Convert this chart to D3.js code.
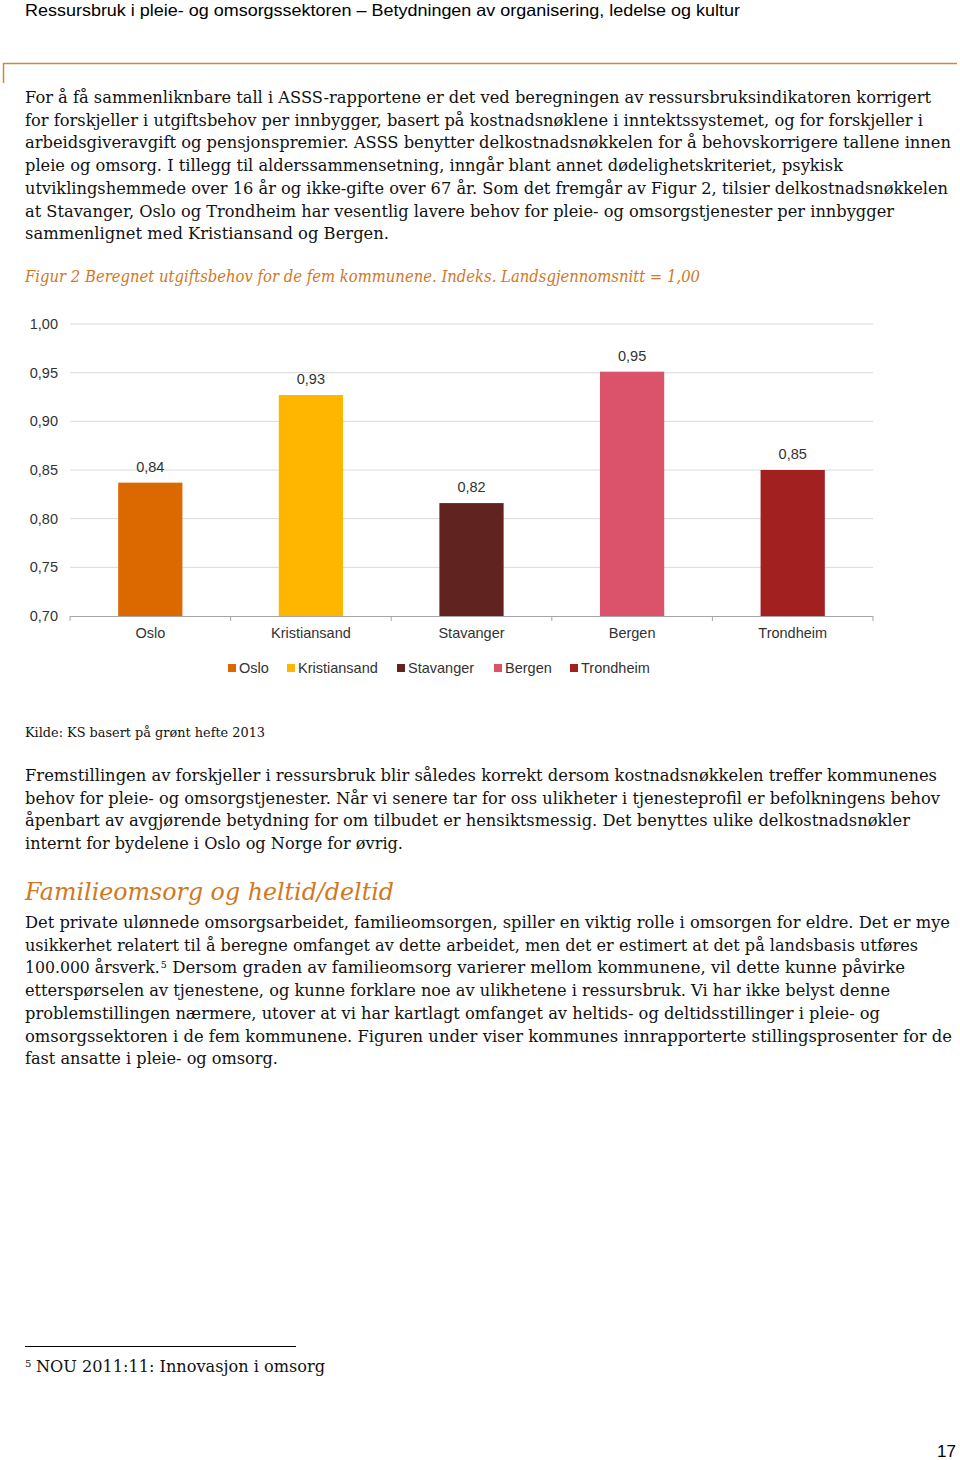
<!DOCTYPE html>
<html><head><meta charset="utf-8">
<script src="https://cdn.jsdelivr.net/npm/d3@7"></script>
<style>
html,body{margin:0;padding:0;background:#fff;}
svg{display:block;}
</style></head>
<body>
<svg id="page" width="960" height="1460"></svg>
<script>
// ---------- chart data ----------
const categories = ["Oslo", "Kristiansand", "Stavanger", "Bergen", "Trondheim"];
const values = [0.837, 0.927, 0.816, 0.951, 0.850];
const colors = ["#DC6900", "#FFB600", "#602320", "#DB536A", "#A32020"];
const yTicks = [0.70, 0.75, 0.80, 0.85, 0.90, 0.95, 1.00];

// ---------- page text ----------
const headerText = "Ressursbruk i pleie- og omsorgssektoren – Betydningen av organisering, ledelse og kultur";
const para1 = [
 ["For å få sammenliknbare tall i ASSS-rapportene er det ved beregningen av ressursbruksindikatoren korrigert", 931],
 ["for forskjeller i utgiftsbehov per innbygger, basert på kostnadsnøklene i inntektssystemet, og for forskjeller i", 923],
 ["arbeidsgiveravgift og pensjonspremier. ASSS benytter delkostnadsnøkkelen for å behovskorrigere tallene innen", 951],
 ["pleie og omsorg. I tillegg til alderssammensetning, inngår blant annet dødelighetskriteriet, psykisk", 843],
 ["utviklingshemmede over 16 år og ikke-gifte over 67 år. Som det fremgår av Figur 2, tilsier delkostnadsnøkkelen", 948],
 ["at Stavanger, Oslo og Trondheim har vesentlig lavere behov for pleie- og omsorgstjenester per innbygger", 894],
 ["sammenlignet med Kristiansand og Bergen.", 389]
];
const captionText = "Figur 2 Beregnet utgiftsbehov for de fem kommunene. Indeks. Landsgjennomsnitt = 1,00";
const sourceText = "Kilde: KS basert på grønt hefte 2013";
const para2 = [
 ["Fremstillingen av forskjeller i ressursbruk blir således korrekt dersom kostnadsnøkkelen treffer kommunenes", 937],
 ["behov for pleie- og omsorgstjenester. Når vi senere tar for oss ulikheter i tjenesteprofil er befolkningens behov", 940],
 ["åpenbart av avgjørende betydning for om tilbudet er hensiktsmessig. Det benyttes ulike delkostnadsnøkler", 910],
 ["internt for bydelene i Oslo og Norge for øvrig.", 403]
];
const headingText = "Familieomsorg og heltid/deltid";
const para3 = [
 ["Det private ulønnede omsorgsarbeidet, familieomsorgen, spiller en viktig rolle i omsorgen for eldre. Det er mye", 950],
 ["usikkerhet relatert til å beregne omfanget av dette arbeidet, men det er estimert at det på landsbasis utføres", 918],
 ["100.000 årsverk.|5| Dersom graden av familieomsorg varierer mellom kommunene, vil dette kunne påvirke", 905],
 ["etterspørselen av tjenestene, og kunne forklare noe av ulikhetene i ressursbruk. Vi har ikke belyst denne", 890],
 ["problemstillingen nærmere, utover at vi har kartlagt omfanget av heltids- og deltidsstillinger i pleie- og", 880],
 ["omsorgssektoren i de fem kommunene. Figuren under viser kommunes innrapporterte stillingsprosenter for de", 952],
 ["fast ansatte i pleie- og omsorg.", 278]
];
const footnoteText = "NOU 2011:11: Innovasjon i omsorg";
const pageNumber = "17";

const svg = d3.select("#page");
const SERIF = "'DejaVu Serif', Georgia, serif";
const SANS = "'Liberation Sans', Arial, sans-serif";
const ORANGE = "#D2781E";

// header
svg.append("text").attr("x", 25).attr("y", 16).attr("font-family", SANS)
  .attr("font-size", 16.5).attr("fill", "#000").text(headerText)
  .attr("textLength", 715).attr("lengthAdjust", "spacingAndGlyphs");

// orange rule
svg.append("path").attr("d", "M3.5,83 V63.5 H957").attr("fill", "none")
  .attr("stroke", "#C98A3E").attr("stroke-width", 1.5);

function paragraph(lines, y0, lh) {
  lines.forEach((l, i) => {
    const y = y0 + i * lh;
    const parts = l[0].split("|");
    if (parts.length === 1) {
      svg.append("text").attr("x", 25).attr("y", y)
        .attr("font-family", SERIF).attr("font-size", 16).attr("fill", "#111")
        .attr("textLength", l[1] - 25).attr("lengthAdjust", "spacingAndGlyphs")
        .text(l[0]);
    } else {
      // line with a superscript note: draw pieces separately
      const t1 = svg.append("text").attr("x", 25).attr("y", y)
        .attr("font-family", SERIF).attr("font-size", 16).attr("fill", "#111").text(parts[0]);
      const w1 = t1.node().getComputedTextLength();
      const sx = 25 + w1 * 0.98;
      t1.attr("textLength", w1 * 0.98).attr("lengthAdjust", "spacingAndGlyphs");
      const s = svg.append("text").attr("x", sx + 1).attr("y", y - 5)
        .attr("font-family", SERIF).attr("font-size", 9.5).attr("fill", "#111").text(parts[1]);
      const ws = s.node().getComputedTextLength();
      const x3 = sx + 1 + ws;
      svg.append("text").attr("x", x3).attr("y", y)
        .attr("font-family", SERIF).attr("font-size", 16).attr("fill", "#111")
        .attr("xml:space", "preserve").style("white-space", "pre")
        .attr("textLength", l[1] - x3).attr("lengthAdjust", "spacingAndGlyphs")
        .text(parts[2]);
    }
  });
}
paragraph(para1, 103, 22.7);

// caption
svg.append("text").attr("x", 25).attr("y", 282).attr("font-family", SERIF)
  .attr("font-style", "italic").attr("font-size", 16).attr("fill", ORANGE)
  .attr("textLength", 675).attr("lengthAdjust", "spacingAndGlyphs").text(captionText);

// ---------- chart ----------
const x = d3.scaleBand().domain(categories).range([70, 873]).padding(0);
const y = d3.scaleLinear().domain([0.70, 1.00]).range([616, 324]);
const barW = x.bandwidth() * 0.4;
const fmt = v => d3.format(".2f")(v).replace(".", ",");

const chart = svg.append("g");
// gridlines
chart.selectAll("line.grid").data(yTicks.slice(1)).join("line")
  .attr("x1", 70).attr("x2", 873)
  .attr("y1", d => y(d)).attr("y2", d => y(d))
  .attr("stroke", "#D9D9D9").attr("stroke-width", 1);

// y axis labels
const yAxis = d3.axisLeft(y).tickValues(yTicks).tickSize(0).tickPadding(12).tickFormat(fmt);
const gy = chart.append("g").attr("transform", "translate(70,0)").call(yAxis);
gy.select(".domain").remove();
gy.selectAll("text").attr("font-family", SANS).attr("font-size", 14.5).attr("fill", "#333");

// bars
chart.selectAll("rect.bar").data(categories).join("rect")
  .attr("x", d => x(d) + (x.bandwidth() - barW) / 2)
  .attr("width", barW)
  .attr("y", (d, i) => y(values[i]))
  .attr("height", (d, i) => y(0.70) - y(values[i]))
  .attr("fill", (d, i) => colors[i]);

// value labels
chart.selectAll("text.val").data(categories).join("text")
  .attr("x", d => x(d) + x.bandwidth() / 2)
  .attr("y", (d, i) => y(values[i]) - 11)
  .attr("text-anchor", "middle").attr("font-family", SANS).attr("font-size", 14.5)
  .attr("fill", "#333").text((d, i) => fmt(values[i]));

// x axis
const xAxis = d3.axisBottom(x).tickSize(0).tickPadding(12);
const gx = chart.append("g").attr("transform", `translate(0,${y(0.70)})`).call(xAxis);
gx.select(".domain").attr("stroke", "#A6A6A6").attr("d", "M70,0.5H873");
gx.selectAll("text").attr("font-family", SANS).attr("font-size", 14.5).attr("fill", "#333");
// boundary tick marks
const bounds = categories.map(c => x(c)).concat([873]);
gx.selectAll("line.bt").data(bounds).join("line")
  .attr("x1", d => d).attr("x2", d => d).attr("y1", 0).attr("y2", 5)
  .attr("stroke", "#A6A6A6");

// legend
const legendX = [228, 287, 397, 494, 570];
const lg = chart.selectAll("g.lg").data(categories).join("g")
  .attr("transform", (d, i) => `translate(${legendX[i]},668)`);
lg.append("rect").attr("x", 0).attr("y", -4).attr("width", 8).attr("height", 8)
  .attr("fill", (d, i) => colors[i]);
lg.append("text").attr("x", 11).attr("y", 5).attr("font-family", SANS)
  .attr("font-size", 14.5).attr("fill", "#333").text(d => d);

// source
svg.append("text").attr("x", 25).attr("y", 737).attr("font-family", SERIF)
  .attr("font-size", 13.5).attr("fill", "#111")
  .attr("textLength", 240).attr("lengthAdjust", "spacingAndGlyphs").text(sourceText);

paragraph(para2, 781, 22.7);

// heading
svg.append("text").attr("x", 25).attr("y", 900).attr("font-family", SERIF)
  .attr("font-style", "italic").attr("font-size", 25).attr("fill", ORANGE)
  .attr("textLength", 369).attr("lengthAdjust", "spacingAndGlyphs").text(headingText);

paragraph(para3, 928, 22.7);

// footnote
svg.append("line").attr("x1", 25).attr("x2", 296).attr("y1", 1346.5).attr("y2", 1346.5)
  .attr("stroke", "#000").attr("stroke-width", 1);
svg.append("text").attr("x", 25).attr("y", 1367).attr("font-family", SERIF)
  .attr("font-size", 10).attr("fill", "#111").text("5");
svg.append("text").attr("x", 36).attr("y", 1372).attr("font-family", SERIF)
  .attr("font-size", 16).attr("fill", "#111")
  .attr("textLength", 289).attr("lengthAdjust", "spacingAndGlyphs").text(footnoteText);

// page number
svg.append("text").attr("x", 956).attr("y", 1457).attr("text-anchor", "end")
  .attr("font-family", SANS).attr("font-size", 17).attr("fill", "#000").text(pageNumber);
</script>
</body></html>
